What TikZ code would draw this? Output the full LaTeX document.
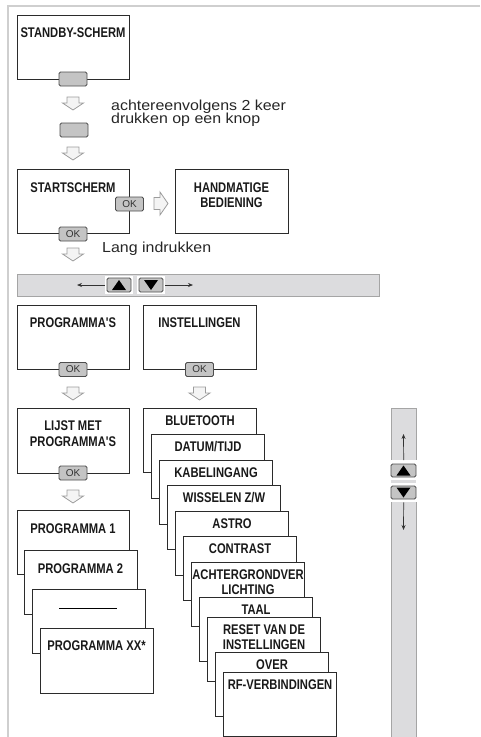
\documentclass[tikz,border=0pt]{standalone}
\usepackage{fontspec}
\setmainfont{Liberation Sans}
\newfontfamily\ttlfont{Liberation Sans}[FakeStretch=0.8]
\newfontfamily\txtfont{Liberation Sans}[FakeStretch=1.1]
\usetikzlibrary{arrows.meta,calc}
\definecolor{boxline}{HTML}{2B2B2B}
\definecolor{btnfill}{HTML}{C4C4C4}
\definecolor{btnline}{HTML}{4D4D4D}
\definecolor{barfill}{HTML}{DCDCDE}
\definecolor{barline}{HTML}{A5A5A5}
\definecolor{arrfill}{HTML}{F4F4F4}
\definecolor{arrline}{HTML}{9C9C9C}
\definecolor{framecol}{HTML}{CFCFCF}
\tikzset{
 box/.style={draw=boxline, fill=white, line width=1.1pt, inner sep=0pt, minimum height=64pt, minimum width=113pt, anchor=north west},
 ttl/.style={font=\ttlfont\bfseries\fontsize{14}{15}\selectfont, inner sep=0pt, anchor=base, text=black!90},
 txt/.style={font=\txtfont\fontsize{14.5}{15}\selectfont, inner sep=0pt, anchor=base west, text=black!85},
 btn/.style={draw=btnline, fill=btnfill, rounded corners=1.5pt, line width=0.8pt, minimum width=28pt, minimum height=14pt, inner sep=0pt, font=\fontsize{10}{10}\selectfont, text=black!80},
 hollow/.style={draw=arrline, fill=arrfill, line width=0.8pt, line join=miter},
 frameline/.style={draw=framecol, line width=1.5pt},
 bar/.style={draw=barline, fill=barfill, line width=1pt, inner sep=0pt},
 wband/.style={fill=white, inner sep=0pt},
 thinarr/.style={draw=black!80, line width=0.7pt, -{Stealth[length=5pt,width=4pt]}},
}
\newcommand\stbox[4]{%
 \node[box] (#1) at (#2,#3) {};
 \node[ttl] (#1t) at ($(#1.north)+(0,17.5)$) {#4};}
\newcommand\stboxii[5]{%
 \node[box] (#1) at (#2,#3) {};
 \node[ttl] (#1t) at ($(#1.north)+(0,17.5)$) {#4};
 \node[ttl] (#1u) at ($(#1.north)+(0,32)$) {#5};}
\newcommand\darr[3]{%
 \coordinate (#1) at (#2,#3);
 \draw[hollow] (#1) ++(-6,0) -- ++(12,0) -- ++(0,6) -- ++(4.5,0) -- ++(-10.5,7) -- ++(-10.5,-7) -- ++(4.5,0) -- cycle;}
\begin{document}
\begin{tikzpicture}[x=1pt,y=-1pt]
\useasboundingbox (0,0) rectangle (480,737);
\draw[frameline] (480,6) -- (8,6) -- (8,737);

% standby
\node[box, minimum width=112pt] (sb) at (17,15) {};
\node[ttl] (sbt) at (73,37) {STANDBY-SCHERM};
\node[btn] (b1) at (73,79) {};
\darr{a1}{73}{97}
\node[btn] (b2) at (74,130) {};
\node[txt] (tx1) at (111,110.5) {achtereenvolgens 2 keer};
\node[txt] (tx2) at (111,123.5) {drukken op een knop};
\darr{a2}{73}{147}

% startscherm
\node[box, minimum width=112pt] (ss) at (17,169) {};
\node[ttl] (sst) at (73,192) {STARTSCHERM};
\node[btn] (ok1) at (129.5,204) {OK};
\node[btn] (ok2) at (73,234) {OK};
\coordinate (ra) at (154,203.5);
\draw[hollow] (ra) ++(0,-6) -- ++(6,0) -- ++(0,-5.5) -- ++(8,11.5) -- ++(-8,11.5) -- ++(0,-5.5) -- ++(-6,0) -- cycle;
\node[box] (hm) at (175,169) {};
\node[ttl] (hmt) at (231.5,192) {HANDMATIGE};
\node[ttl] (hmu) at (231.5,207) {BEDIENING};
\node[txt] (tx3) at (102,252.5) {Lang indrukken};
\darr{a3}{73}{248}

% horizontal bar
\node[bar, minimum width=362pt, minimum height=22pt, anchor=north west] (hbar) at (17,274) {};
\node[wband, minimum width=28pt, minimum height=18pt] (hwu) at (119,285) {};
\node[wband, minimum width=28pt, minimum height=18pt] (hwd) at (151,285) {};
\node[btn, minimum width=24pt] (hup) at (119,285) {};
\node[btn, minimum width=24pt] (hdn) at (151,285) {};
\fill[black] ([shift={(0,-5)}]hup.center) -- ([shift={(7,5)}]hup.center) -- ([shift={(-7,5)}]hup.center) -- cycle;
\fill[black] ([shift={(0,5)}]hdn.center) -- ([shift={(7,-5)}]hdn.center) -- ([shift={(-7,-5)}]hdn.center) -- cycle;
\coordinate (hl) at (77,285);
\coordinate (hr) at (193,285);
\draw[thinarr] (hwu.west) -- (hl);
\draw[thinarr] (hwd.east) -- (hr);

% programma's / instellingen
\node[box, minimum width=112pt] (pg) at (17,305) {};
\node[ttl] (pgt) at (73,327) {PROGRAMMA'S};
\node[btn] (ok3) at (73,369.5) {OK};
\node[box] (in) at (143,305) {};
\node[ttl] (int) at (199.5,327) {INSTELLINGEN};
\node[btn] (ok4) at (199.5,369.5) {OK};
\darr{a4}{73}{387}
\darr{a5}{199.5}{387}

% lijst
\node[box, minimum width=112pt, minimum height=65pt] (lp) at (17,408) {};
\node[ttl] (lpt) at (73,430) {LIJST MET};
\node[ttl] (lpu) at (73,446) {PROGRAMMA'S};
\node[btn] (ok5) at (73,473) {OK};
\darr{a6}{73}{490}

% programma stack
\node[box, minimum width=112pt] (p1) at (17,510) {};
\node[ttl] (p1t) at (73,533) {PROGRAMMA 1};
\node[box] (p2) at (24,550) {};
\node[ttl] (p2t) at (80.5,573) {PROGRAMMA 2};
\node[box] (p3) at (32,589) {};
\node[inner sep=0pt] (p3t) at (88,608) {\rule{58pt}{0.9pt}};
\node[box, minimum height=65pt] (px) at (40,628) {};
\node[ttl] (pxt) at (96.5,650) {PROGRAMMA XX*};

% settings stack
\stbox{s1}{143}{408}{BLUETOOTH}
\stbox{s2}{151}{434}{DATUM/TIJD}
\stbox{s3}{159}{460}{KABELINGANG}
\stbox{s4}{167}{485}{WISSELEN Z/W}
\stbox{s5}{175}{511}{ASTRO}
\stbox{s6}{183}{536}{CONTRAST}
\stboxii{s7}{191}{562}{ACHTERGRONDVER}{LICHTING}
\stbox{s8}{199}{597}{TAAL}
\stboxii{s9}{207}{617}{RESET VAN DE}{INSTELLINGEN}
\stbox{s10}{215}{652}{OVER}
\stbox{s11}{223}{672}{RF-VERBINDINGEN}

% vertical bar
\node[bar, minimum width=25pt, minimum height=330pt, anchor=north west] (vbar) at (391,408) {};
\node[wband, minimum width=27pt, minimum height=42pt, anchor=north west] (vband) at (390,460) {};
\node[fill=barfill, minimum width=25pt, minimum height=2.5pt, inner sep=0pt] (vstr) at (403.5,481.5) {};
\node[btn, minimum width=25pt, minimum height=13pt] (vup) at (403.5,470.5) {};
\node[btn, minimum width=25pt, minimum height=13pt] (vdn) at (403.5,492.5) {};
\fill[black] ([shift={(0,-5)}]vup.center) -- ([shift={(7,5)}]vup.center) -- ([shift={(-7,5)}]vup.center) -- cycle;
\fill[black] ([shift={(0,5)}]vdn.center) -- ([shift={(7,-5)}]vdn.center) -- ([shift={(-7,-5)}]vdn.center) -- cycle;
\coordinate (vt) at (403.5,434);
\coordinate (vb) at (403.5,530);
\draw[thinarr] (vband.north) -- (vt);
\draw[thinarr] (vband.south) -- (vb);
\end{tikzpicture}
\end{document}
